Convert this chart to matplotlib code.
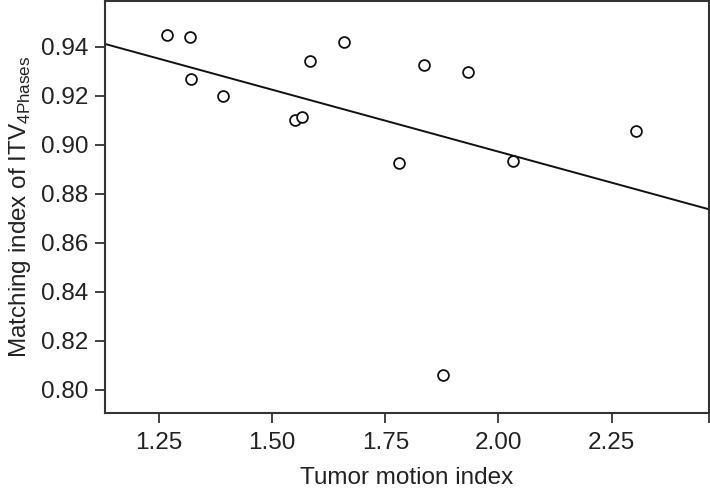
import numpy as np
import matplotlib
matplotlib.use("Agg")
import matplotlib.pyplot as plt

# data
motion = [1.268, 1.318, 1.321, 1.391, 1.551, 1.565, 1.584, 1.659,
          1.780, 1.835, 1.932, 2.031, 2.303, 1.878]
matching = [0.9448, 0.9440, 0.9268, 0.9199, 0.9101, 0.9112, 0.9344, 0.9418,
            0.8924, 0.9325, 0.9299, 0.8935, 0.9056, 0.8060]
xticks = [1.25, 1.50, 1.75, 2.00, 2.25]
yticks = [0.80, 0.82, 0.84, 0.86, 0.88, 0.90, 0.92, 0.94]

plt.rcParams['font.family'] = ['Liberation Sans', 'DejaVu Sans']
plt.rcParams['mathtext.fontset'] = 'custom'
plt.rcParams['mathtext.rm'] = 'Liberation Sans'

fig = plt.figure(figsize=(7.1, 4.88), dpi=100)
ax = fig.add_axes([0.1479, 0.1537, 0.8507, 0.8443])

xlim = (1.131, 2.465)
ax.set_xlim(*xlim)
ax.set_ylim(0.7906, 0.9587)

# least squares fit line
slope, icpt = np.polyfit(motion, matching, 1)
xs = np.array(xlim)
ax.plot(xs, slope * xs + icpt, color='#111111', lw=1.4)

ax.plot(motion, matching, 'o', mfc='white', mec='#111111', mew=1.3,
        ms=7.8, ls='none')

ax.set_xticks(xticks)
ax.set_xticklabels(["%.2f" % v for v in xticks])
ax.set_xticks([xlim[1]], minor=True)
ax.set_yticks(yticks)
ax.set_yticklabels(["%.2f" % v for v in yticks])

for s in ax.spines.values():
    s.set_color('#333333')
    s.set_linewidth(1.5)
ax.tick_params(which='both', direction='out', length=7, width=1.3,
               color='#333333', labelsize=17.5, labelcolor='#222222', pad=5)
ax.tick_params(axis='x', which='both', pad=7)

ax.set_xlabel("Tumor motion index", fontsize=17.5, color='#222222', labelpad=9)
ax.set_ylabel(r"Matching index of ITV$_{\mathrm{4Phases}}$", fontsize=17.5,
              color='#222222', labelpad=6)

fig.savefig("out.png", dpi=100)
